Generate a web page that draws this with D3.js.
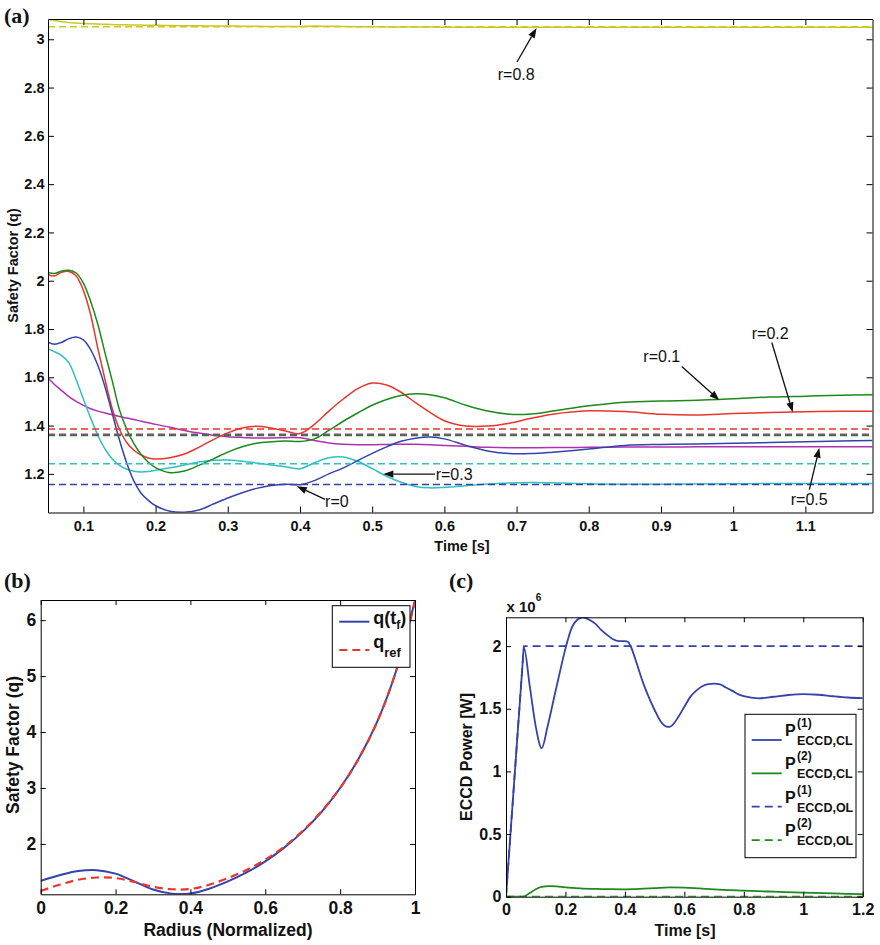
<!DOCTYPE html>
<html>
<head>
<meta charset="utf-8">
<script src="https://cdn.jsdelivr.net/npm/d3@7"></script>
<style>
  body { margin: 0; background: #fff; }
  svg { display: block; }
</style>
</head>
<body>
<svg id="chart" width="880" height="945"></svg>
<script>
// ---------------- DATA ----------------
// Panel (a): safety factor q vs time at several radii
const timeA = [0.051,0.06,0.07,0.08,0.09,0.10,0.11,0.12,0.13,0.14,0.15,0.16,0.17,0.18,0.19,0.20,
  0.22,0.24,0.26,0.28,0.30,0.32,0.34,0.36,0.38,0.40,0.42,0.44,0.46,0.48,0.50,0.52,0.54,0.56,0.58,0.60,
  0.63,0.66,0.69,0.72,0.75,0.80,0.85,0.90,0.95,1.00,1.05,1.10,1.15,1.193];
const qR00 = [1.745,1.737,1.745,1.760,1.767,1.755,1.715,1.65,1.56,1.45,1.34,1.245,1.17,1.12,1.09,1.068,
  1.045,1.041,1.05,1.075,1.10,1.122,1.14,1.152,1.157,1.155,1.172,1.20,1.225,1.255,1.285,1.312,1.335,1.348,1.353,1.345,
  1.318,1.295,1.284,1.284,1.29,1.303,1.318,1.322,1.324,1.327,1.330,1.333,1.336,1.338];
const qR01 = [2.034,2.03,2.04,2.043,2.032,1.99,1.915,1.82,1.70,1.585,1.465,1.385,1.325,1.28,1.248,1.226,
  1.205,1.212,1.235,1.262,1.29,1.312,1.327,1.333,1.336,1.334,1.345,1.38,1.418,1.452,1.484,1.508,1.525,1.532,1.528,1.515,
  1.484,1.46,1.447,1.448,1.46,1.482,1.497,1.502,1.505,1.511,1.518,1.522,1.526,1.528];
const qR02 = [2.025,2.02,2.035,2.038,2.02,1.96,1.86,1.72,1.59,1.47,1.385,1.33,1.298,1.278,1.266,1.262,
  1.267,1.282,1.31,1.342,1.37,1.39,1.397,1.39,1.378,1.367,1.405,1.46,1.51,1.553,1.576,1.568,1.538,1.495,1.455,1.42,
  1.398,1.398,1.41,1.43,1.447,1.461,1.458,1.447,1.444,1.45,1.454,1.457,1.459,1.459];
const qR03 = [1.717,1.706,1.69,1.66,1.59,1.51,1.432,1.36,1.303,1.262,1.235,1.219,1.211,1.208,1.21,1.215,
  1.225,1.237,1.249,1.256,1.257,1.252,1.245,1.237,1.229,1.221,1.246,1.267,1.27,1.252,1.222,1.19,1.165,1.148,1.142,1.144,
  1.151,1.158,1.162,1.164,1.163,1.159,1.157,1.157,1.158,1.159,1.16,1.16,1.16,1.16];
const qR05 = [1.597,1.57,1.545,1.52,1.50,1.484,1.47,1.46,1.452,1.445,1.438,1.431,1.425,1.418,1.412,1.405,
  1.393,1.38,1.369,1.36,1.354,1.351,1.349,1.349,1.35,1.35,1.338,1.328,1.323,1.321,1.321,1.322,1.323,1.323,1.321,1.318,
  1.314,1.31,1.308,1.308,1.309,1.31,1.311,1.311,1.312,1.312,1.312,1.312,1.312,1.312];
const qR08 = [3.083,3.078,3.073,3.069,3.067,3.065,3.064,3.063,3.062,3.061,3.060,3.060,3.059,3.059,3.058,3.058,
  3.057,3.056,3.056,3.055,3.055,3.054,3.054,3.053,3.053,3.053,3.055,3.054,3.053,3.052,3.052,3.051,3.051,3.051,3.051,3.050,
  3.050,3.050,3.050,3.050,3.050,3.050,3.050,3.050,3.050,3.050,3.050,3.050,3.050,3.050];
// reference (target) values, drawn dashed
const qRefR00 = 1.156, qRefR01 = 1.359, qRefR02 = 1.386, qRefR03 = 1.242, qRefR05 = 1.364, qRefR08 = 3.052;
// annotations: label, text anchor (t,q), arrow tail (t,q), arrow tip (t,q)
const annotA = [
  ["r=0.8", 0.674, 2.832, 0.7006, 2.906, 0.7277, 3.047],
  ["r=0.1", 0.8756, 1.663, 0.9288, 1.645, 0.9809, 1.505],
  ["r=0.2", 1.0258, 1.760, 1.0535, 1.744, 1.0826, 1.455],
  ["r=0.5", 1.0798, 1.073, 1.1055, 1.135, 1.1194, 1.308],
  ["r=0.3", 0.588, 1.175, 0.5871, 1.199, 0.5155, 1.199],
  ["r=0", 0.4348, 1.061, 0.4348, 1.094, 0.3956, 1.149]
];
const xTicksA = [0.1,0.2,0.3,0.4,0.5,0.6,0.7,0.8,0.9,1.0,1.1];
const yTicksA = [1.2,1.4,1.6,1.8,2.0,2.2,2.4,2.6,2.8,3.0];

// Panel (b): q profile vs normalized radius
const radiusB = [0,0.05,0.1,0.15,0.2,0.25,0.3,0.35,0.4,0.45,0.5,0.55,0.6,0.65,0.7,0.75,0.8,0.85,0.9,0.95,1.0];
const qFinal = [1.34,1.44,1.515,1.532,1.47,1.33,1.185,1.112,1.115,1.20,1.33,1.49,1.69,1.93,2.22,2.57,3.0,3.53,4.2,5.1,6.36];
const qRef   = [1.16,1.27,1.36,1.40,1.39,1.32,1.235,1.19,1.195,1.27,1.39,1.535,1.72,1.95,2.235,2.58,3.0,3.53,4.2,5.1,6.33];
const xTicksB = [0,0.2,0.4,0.6,0.8,1];
const yTicksB = [2,3,4,5,6];

// Panel (c): ECCD power (units of 1e6 W)
const timeC1 = [0,0.03,0.055,0.06,0.08,0.10,0.12,0.14,0.16,0.18,0.20,0.22,0.24,0.26,0.28,0.30,0.32,0.34,0.36,0.38,0.40,0.41,0.42,0.44,0.46,0.48,0.50,0.52,0.54,0.55,0.56,0.58,0.60,0.62,0.64,0.66,0.68,0.70,0.72,0.74,0.76,0.78,0.80,0.85,0.90,0.95,1.00,1.05,1.10,1.15,1.20];
const pCL1 = [0,1.0,1.83,1.99,1.68,1.36,1.185,1.36,1.57,1.78,1.98,2.14,2.21,2.229,2.21,2.18,2.13,2.09,2.055,2.04,2.04,2.035,1.995,1.86,1.715,1.595,1.49,1.40,1.357,1.355,1.37,1.436,1.516,1.595,1.645,1.68,1.697,1.70,1.694,1.67,1.645,1.617,1.60,1.583,1.596,1.61,1.617,1.612,1.60,1.59,1.585];
const timeC2 = [0,0.058,0.08,0.10,0.12,0.145,0.17,0.20,0.25,0.30,0.35,0.40,0.45,0.50,0.55,0.60,0.65,0.70,0.80,0.90,1.00,1.10,1.20];
const pCL2 = [0,0,0.03,0.06,0.078,0.085,0.082,0.074,0.066,0.062,0.06,0.059,0.062,0.068,0.074,0.073,0.066,0.058,0.048,0.04,0.032,0.026,0.02];
const timeOL = [0,0.06,1.2];
const pOL1 = [0,2.0,2.0];
const pOL2 = [0,0,0];
const xTicksC = [0,0.2,0.4,0.6,0.8,1.0,1.2];
const yTicksC = [0,0.5,1,1.5,2];
const legendC = [["(1)","ECCD,CL"],["(2)","ECCD,CL"],["(1)","ECCD,OL"],["(2)","ECCD,OL"]];

// ---------------- STYLE ----------------
const FONT = "'Liberation Sans', Arial, Helvetica, sans-serif";
const SERIF = "'Liberation Serif', 'Times New Roman', serif";
const C_BLUE = "#3343ab", C_GREEN = "#1a8a1a", C_RED = "#e8362c",
      C_CYAN = "#30c0c0", C_MAG = "#b030b0", C_YEL = "#c9c91f";

const svg = d3.select("#chart");
const fmt = d3.format("~g");
let clipId = 0;

function panel(box, xDom, yDom, xTicks, yTicks, ts, fs, padX, padY) {
  const x = d3.scaleLinear().domain(xDom).range([box.l, box.r]);
  const y = d3.scaleLinear().domain(yDom).range([box.b, box.t]);
  const id = "clip" + (clipId++);
  svg.append("clipPath").attr("id", id).append("rect")
    .attr("x", box.l).attr("y", box.t).attr("width", box.r - box.l).attr("height", box.b - box.t);
  const plot = svg.append("g").attr("clip-path", `url(#${id})`);
  const axes = svg.append("g");
  const style = g => {
    g.attr("font-size", fs).attr("font-family", FONT).attr("font-weight", "bold");
    g.selectAll("path,line").attr("stroke", "#000").attr("stroke-width", 1);
    g.selectAll("text").attr("fill", "#111");
  };
  axes.append("g").attr("transform", `translate(0,${box.b})`)
    .call(d3.axisBottom(x).tickValues(xTicks).tickFormat(fmt).tickSize(-ts).tickSizeOuter(0).tickPadding(padX)).call(style);
  axes.append("g").attr("transform", `translate(0,${box.t})`)
    .call(d3.axisTop(x).tickValues(xTicks).tickFormat(() => "").tickSize(-ts).tickSizeOuter(0)).call(style);
  axes.append("g").attr("transform", `translate(${box.l},0)`)
    .call(d3.axisLeft(y).tickValues(yTicks).tickFormat(fmt).tickSize(-ts).tickSizeOuter(0).tickPadding(padY)).call(style);
  axes.append("g").attr("transform", `translate(${box.r},0)`)
    .call(d3.axisRight(y).tickValues(yTicks).tickFormat(() => "").tickSize(-ts).tickSizeOuter(0)).call(style);
  return { x, y, plot, axes };
}

function drawLine(p, xs, ys, color, width, dash, curve) {
  const pts = xs.map((v, i) => [v, ys[i]]);
  const line = d3.line().x(d => p.x(d[0])).y(d => p.y(d[1])).curve(curve || d3.curveCatmullRom.alpha(0.5));
  p.plot.append("path").datum(pts).attr("d", line)
    .attr("fill", "none").attr("stroke", color).attr("stroke-width", width)
    .attr("stroke-dasharray", dash || null).attr("stroke-linejoin", "round");
}

function text(x, y, str, fs, opts = {}) {
  const t = svg.append("text").attr("x", x).attr("y", y).text(str)
    .attr("font-size", fs).attr("font-family", opts.family || FONT)
    .attr("font-weight", opts.weight || "bold").attr("fill", "#111")
    .attr("text-anchor", opts.anchor || "start");
  if (opts.rotate) t.attr("transform", `rotate(${opts.rotate},${x},${y})`);
  return t;
}

// ---------------- PANEL (a) ----------------
const A = panel({ l: 48, r: 872.5, t: 19, b: 512.5 }, [0.051, 1.193], [1.04, 3.084],
  xTicksA, yTicksA, 6, 14.5, 8.2, 3.5);
const dashA = "7,4";
const seriesA = [
  [qR08, qRefR08, C_YEL], [qR05, qRefR05, C_MAG], [qR03, qRefR03, C_CYAN],
  [qR02, qRefR02, C_RED], [qR01, qRefR01, C_GREEN], [qR00, qRefR00, C_BLUE]
];
seriesA.forEach(([vals, ref, col]) => drawLine(A, timeA, vals, col, 1.5));
seriesA.forEach(([vals, ref, col]) => drawLine(A, [timeA[0], timeA[timeA.length - 1]], [ref, ref], col, 1.5, dashA, d3.curveLinear));

// annotations
annotA.forEach(([lab, tx, ty, t0, q0, t1, q1]) => {
  text(A.x(tx), A.y(ty), lab, 16, { weight: "normal" });
  const x0 = A.x(t0), y0 = A.y(q0), x1 = A.x(t1), y1 = A.y(q1);
  const ang = Math.atan2(y1 - y0, x1 - x0);
  const L = 10, W = 3.6;
  const bx = x1 - L * Math.cos(ang), by = y1 - L * Math.sin(ang);
  svg.append("line").attr("x1", x0).attr("y1", y0).attr("x2", bx).attr("y2", by)
    .attr("stroke", "#111").attr("stroke-width", 1.3);
  const px = -Math.sin(ang) * W, py = Math.cos(ang) * W;
  svg.append("polygon")
    .attr("points", `${x1},${y1} ${bx + px},${by + py} ${bx - px},${by - py}`)
    .attr("fill", "#111");
});
text(462, 550.5, "Time [s]", 14.5, { anchor: "middle" });
text(17.5, 265.5, "Safety Factor (q)", 14.5, { anchor: "middle", rotate: -90 });
text(4, 23, "(a)", 22, { family: SERIF });

// ---------------- PANEL (b) ----------------
const B = panel({ l: 40.7, r: 415, t: 600, b: 894.3 }, [0, 1], [1.10, 6.36],
  xTicksB, yTicksB, 5, 17.5, 7.3, 4.5);
drawLine(B, radiusB, qFinal, C_BLUE, 2);
drawLine(B, radiusB, qRef, C_RED, 2.2, "8,5");
// legend (b)
svg.append("rect").attr("x", 332.3).attr("y", 605.7).attr("width", 77.7).attr("height", 61.6)
  .attr("fill", "#fff").attr("stroke", "#000").attr("stroke-width", 1);
svg.append("line").attr("x1", 339.3).attr("x2", 369.3).attr("y1", 621.7).attr("y2", 621.7)
  .attr("stroke", C_BLUE).attr("stroke-width", 2);
svg.append("line").attr("x1", 339.3).attr("x2", 369.3).attr("y1", 650).attr("y2", 650)
  .attr("stroke", C_RED).attr("stroke-width", 2.2).attr("stroke-dasharray", "8,5");
const lb1 = text(373.3, 624, "q(t", 18);
lb1.append("tspan").attr("font-size", 12).attr("dy", 5).text("f");
lb1.append("tspan").attr("font-size", 18).attr("dy", -5).text(")");
const lb2 = text(373.3, 647.5, "q", 18);
lb2.append("tspan").attr("font-size", 13).attr("dy", 9.3).text("ref");
text(228, 936, "Radius (Normalized)", 17.5, { anchor: "middle" });
text(18.5, 745, "Safety Factor (q)", 17.5, { anchor: "middle", rotate: -90 });
text(4, 588, "(b)", 22, { family: SERIF });

// ---------------- PANEL (c) ----------------
const Cp = panel({ l: 506, r: 862.7, t: 617.3, b: 896.7 }, [0, 1.2], [0, 2.23],
  xTicksC, yTicksC, 5, 16, 6.9, 4.5);
drawLine(Cp, timeOL, pOL2, C_GREEN, 1.8, "8,5", d3.curveLinear);
drawLine(Cp, timeC2, pCL2, C_GREEN, 1.8, null, d3.curveMonotoneX);
drawLine(Cp, timeOL, pOL1, C_BLUE, 1.8, "8,5", d3.curveLinear);
drawLine(Cp, timeC1, pCL1, C_BLUE, 1.8, null, d3.curveMonotoneX);
// multiplier
const mul = text(506.5, 612, "x 10", 15);
mul.append("tspan").attr("font-size", 10).attr("dy", -11).text("6");
// legend (c)
svg.append("rect").attr("x", 745).attr("y", 714.3).attr("width", 111).attr("height", 143.4)
  .attr("fill", "#fff").attr("stroke", "#000").attr("stroke-width", 1);
const legStyles = [[C_BLUE, null], [C_GREEN, null], [C_BLUE, "8,5"], [C_GREEN, "8,5"]];
legendC.forEach(([sup, sub], i) => {
  const ly = 740 + i * 33.35;
  svg.append("line").attr("x1", 751.7).attr("x2", 781.7).attr("y1", ly).attr("y2", ly)
    .attr("stroke", legStyles[i][0]).attr("stroke-width", 1.8).attr("stroke-dasharray", legStyles[i][1]);
  text(785, ly - 4, "P", 16);
  text(797, ly - 13, sup, 12);
  text(797, ly + 5, sub, 12.5);
});
text(685, 936, "Time [s]", 16, { anchor: "middle" });
text(471.5, 757, "ECCD Power [W]", 16, { anchor: "middle", rotate: -90 });
text(449, 588, "(c)", 22, { family: SERIF });
</script>
</body>
</html>
